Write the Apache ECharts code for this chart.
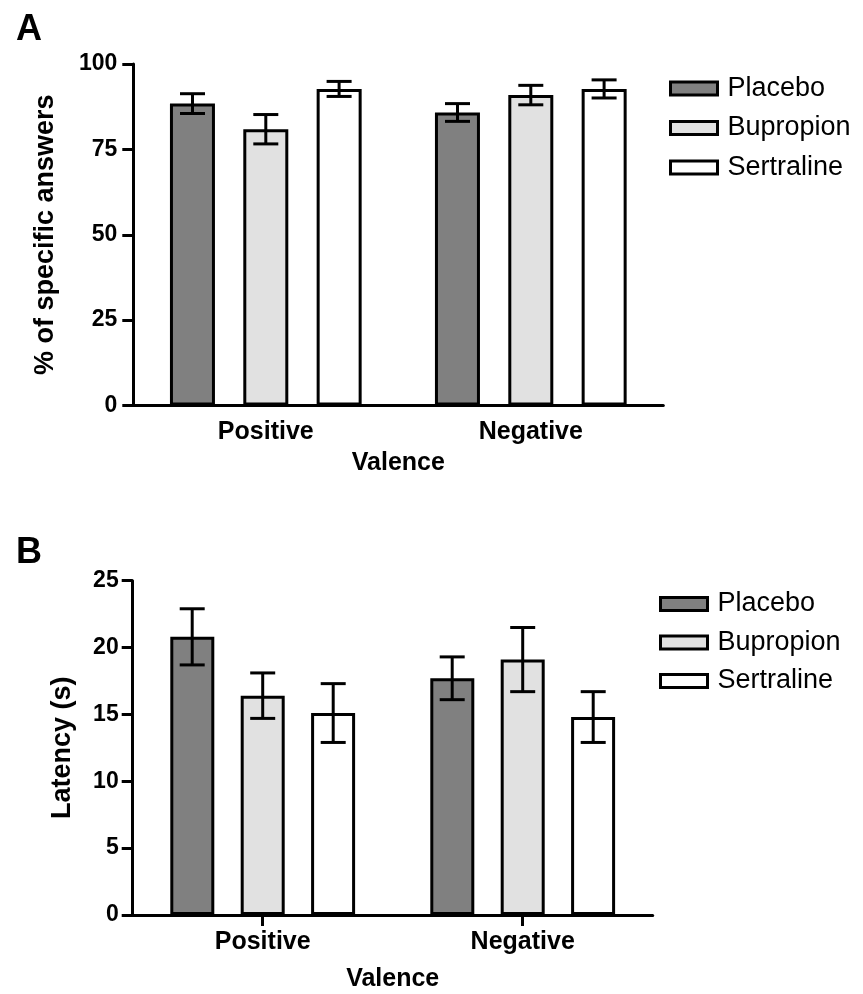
<!DOCTYPE html>
<html>
<head>
<meta charset="utf-8">
<script src="https://cdn.jsdelivr.net/npm/echarts@6/dist/echarts.min.js"></script>
<style>
  html, body { margin: 0; padding: 0; background: #fff; }
  #chart { width: 863px; height: 994px; }
</style>
</head>
<body>
<div id="chart"></div>
<script>
// ---- data ----
const categories = ['Positive', 'Negative'];
const groups = ['Placebo', 'Bupropion', 'Sertraline'];

// Panel A: % of specific answers (mean, SEM)
const accPlacebo = [88.4, 85.8];
const accPlaceboErr = [2.9, 2.6];
const accBupropion = [80.9, 90.9];
const accBupropionErr = [4.3, 2.85];
const accSertraline = [92.7, 92.7];
const accSertralineErr = [2.2, 2.65];

// Panel B: latency (s) (mean, SEM)
const latPlacebo = [20.8, 17.7];
const latPlaceboErr = [2.1, 1.6];
const latBupropion = [16.4, 19.1];
const latBupropionErr = [1.7, 2.4];
const latSertraline = [15.1, 14.8];
const latSertralineErr = [2.2, 1.9];

const accTickLabels = ['0', '25', '50', '75', '100'];
const latTickLabels = ['0', '5', '10', '15', '20', '25'];

// ---- styling ----
const FONT = '"Liberation Sans", Arial, Helvetica, sans-serif';
const fills = ['#808080', '#e1e1e1', '#ffffff'];

const panels = [
  { means: [accPlacebo, accBupropion, accSertraline],
    errs: [accPlaceboErr, accBupropionErr, accSertralineErr],
    barWidth: 45, barGap: '63%', step: 73.3 },
  { means: [latPlacebo, latBupropion, latSertraline],
    errs: [latPlaceboErr, latBupropionErr, latSertralineErr],
    barWidth: 44, barGap: '60%', step: 70.5 }
];

function errRender(offset) {
  return function (params, api) {
    const cat = api.value(0), m = api.value(1), e = api.value(2);
    const x = api.coord([cat, m])[0] + offset;
    const yHi = api.coord([cat, m + e])[1];
    const yLo = api.coord([cat, m - e])[1];
    const half = 12.5;
    const st = { stroke: '#000', lineWidth: 3 };
    return {
      type: 'group',
      children: [
        { type: 'line', shape: { x1: x, y1: yHi, x2: x, y2: yLo }, style: st },
        { type: 'line', shape: { x1: x - half, y1: yHi, x2: x + half, y2: yHi }, style: st },
        { type: 'line', shape: { x1: x - half, y1: yLo, x2: x + half, y2: yLo }, style: st }
      ]
    };
  };
}

const series = [];
panels.forEach((p, g) => {
  groups.forEach((name, i) => {
    series.push({
      name: name,
      type: 'bar',
      xAxisIndex: g,
      yAxisIndex: g,
      data: p.means[i],
      barWidth: p.barWidth,
      barGap: p.barGap,
      itemStyle: { color: fills[i], borderColor: '#000', borderWidth: 3 },
      z: 2
    });
  });
  groups.forEach((name, i) => {
    series.push({
      name: name,
      type: 'custom',
      xAxisIndex: g,
      yAxisIndex: g,
      renderItem: errRender((i - 1) * p.step),
      data: categories.map((c, j) => [j, p.means[i][j], p.errs[i][j]]),
      encode: { x: 0, y: 1 },
      z: 5
    });
  });
});

const axisLineStyle = { color: '#000', width: 3 };
const tickLabel = { color: '#000', fontSize: 23, fontWeight: 'bold', fontFamily: FONT };
const catLabel = { color: '#000', fontSize: 25, fontWeight: 'bold', fontFamily: FONT };
const nameStyleX = { color: '#000', fontSize: 25, fontWeight: 'bold', fontFamily: FONT };
const nameStyleY = { color: '#000', fontSize: 27, fontWeight: 'bold', fontFamily: FONT };

function legendFor(top, left, gap, pad) {
  return {
    data: groups,
    orient: 'vertical',
    left: left,
    top: top,
    itemWidth: 47,
    itemHeight: 13,
    itemGap: gap,
    icon: 'rect',
    itemStyle: { borderColor: '#000', borderWidth: 3 },
    selectedMode: false,
    textStyle: { color: '#000', fontSize: 27, fontFamily: FONT, lineHeight: 27, padding: [0, 0, 0, pad] }
  };
}

const option = {
  animation: false,
  backgroundColor: '#fff',
  textStyle: { fontFamily: FONT },
  title: [
    { text: 'A', left: 11, top: 7, textStyle: { fontSize: 36, fontWeight: 'bold', color: '#000', fontFamily: FONT } },
    { text: 'B', left: 11, top: 530, textStyle: { fontSize: 36, fontWeight: 'bold', color: '#000', fontFamily: FONT } }
  ],
  legend: [
    legendFor(70, 664, 12.5, 5),
    legendFor(585.5, 654, 11.5, 5)
  ],
  grid: [
    { left: 133.3, top: 64, width: 530, height: 341.5 },
    { left: 132.7, top: 580.7, width: 520, height: 334.2 }
  ],
  xAxis: [
    {
      type: 'category', gridIndex: 0, data: categories,
      axisLine: { lineStyle: axisLineStyle },
      axisTick: { show: false },
      axisLabel: Object.assign({ margin: 14 }, catLabel),
      name: 'Valence', nameLocation: 'middle', nameGap: 45, nameTextStyle: nameStyleX
    },
    {
      type: 'category', gridIndex: 1, data: categories,
      axisLine: { lineStyle: axisLineStyle },
      axisTick: { show: true, alignWithLabel: true, length: 11, lineStyle: { color: '#000', width: 3 } },
      axisLabel: Object.assign({ margin: 14.5 }, catLabel),
      name: 'Valence', nameLocation: 'middle', nameGap: 51.5, nameTextStyle: nameStyleX
    }
  ],
  yAxis: [
    {
      type: 'value', gridIndex: 0, min: 0, max: 100, interval: 25,
      axisLine: { show: true, lineStyle: axisLineStyle },
      axisTick: { show: true, length: 11, lineStyle: { color: '#000', width: 3 } },
      splitLine: { show: false },
      axisLabel: Object.assign({ margin: 16, formatter: (v) => accTickLabels[Math.round(v / 25)] }, tickLabel),
      name: '% of specific answers', nameLocation: 'middle', nameGap: 74, nameTextStyle: nameStyleY
    },
    {
      type: 'value', gridIndex: 1, min: 0, max: 25, interval: 5,
      axisLine: { show: true, lineStyle: axisLineStyle },
      axisTick: { show: true, length: 11, lineStyle: { color: '#000', width: 3 } },
      splitLine: { show: false },
      axisLabel: Object.assign({ margin: 14, formatter: (v) => latTickLabels[Math.round(v / 5)] }, tickLabel),
      name: 'Latency (s)', nameLocation: 'middle', nameGap: 57, nameTextStyle: nameStyleY
    }
  ],
  series: series
};

const chart = echarts.init(document.getElementById('chart'), null, { renderer: 'canvas' });
chart.setOption(option);
</script>
</body>
</html>
